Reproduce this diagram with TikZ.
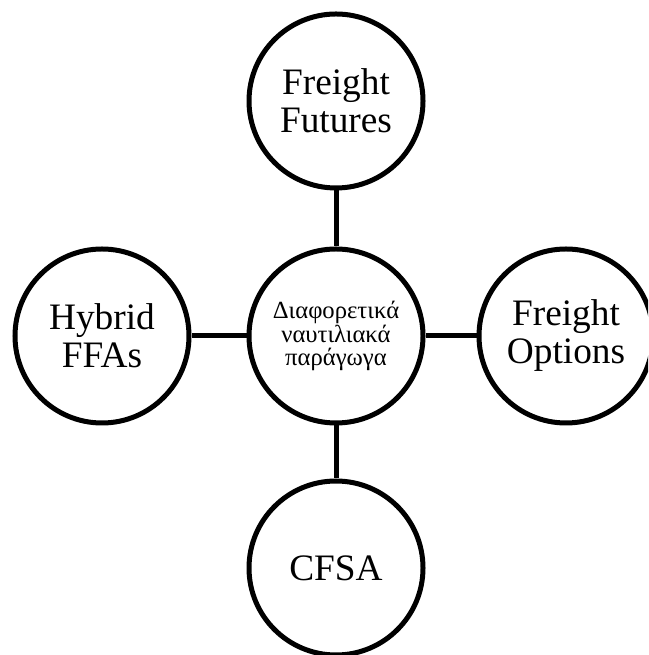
\documentclass[tikz,border=0pt]{standalone}
\usepackage{fontspec}
\setmainfont{Liberation Serif}
\begin{document}
\begin{tikzpicture}[x=0.75pt,y=0.75pt]
      % Define styles for nodes
      \tikzstyle{bubble} = [draw, circle, line width=3.75pt, fill=white,
      minimum size=130.5pt, inner sep=0pt, align=center,
      font=\fontsize{28}{28.5}\selectfont]
      \tikzstyle{hubble} = [bubble, font=\fontsize{18.5}{17.5}\selectfont]
      \tikzstyle{link} = [line width=3.75pt]

      % Frame
      \useasboundingbox (0,0) rectangle (648,655);
      \clip (0,0) rectangle (648,655);

      % Centre
      \node[hubble] (hub) at (336,319) {Διαφορετικά\\ναυτιλιακά\\παράγωγα};

      % Outer circles
      \node[bubble] (futures) at (336,554) {Freight\\Futures};
      \node[bubble] (options) at (566,319) {Freight\\Options};
      \node[bubble] (cfsa) at (336,87) {CFSA};
      \node[bubble] (hybrid) at (102,319) {Hybrid\\FFAs};

      % Connections
      \draw[link] (hub) -- (futures);
      \draw[link] (hub) -- (options);
      \draw[link] (hub) -- (cfsa);
      \draw[link] (hub) -- (hybrid);
    \end{tikzpicture}
\end{document}
